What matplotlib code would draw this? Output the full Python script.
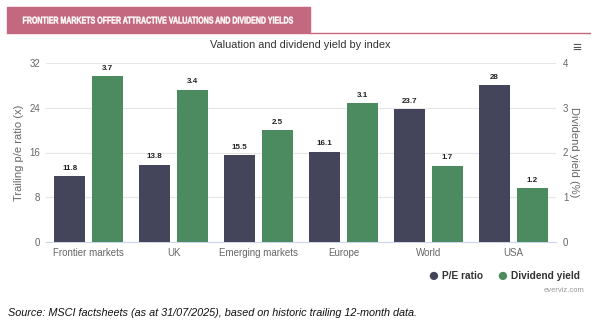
import numpy as np
import matplotlib.pyplot as plt
from matplotlib.patches import Rectangle, PathPatch
from matplotlib.lines import Line2D
from matplotlib.textpath import TextPath
from matplotlib.font_manager import FontProperties
from matplotlib.transforms import Affine2D

plt.rcParams['font.family'] = ['Liberation Sans', 'DejaVu Sans']

# datos
categorias = ["Frontier markets", "UK", "Emerging markets", "Europe", "World", "USA"]
pe_ratio = [11.8, 13.8, 15.5, 16.1, 23.7, 28]
div_yield = [3.7, 3.4, 2.5, 3.1, 1.7, 1.2]
pe_labels = ["11.8", "13.8", "15.5", "16.1", "23.7", "28"]
dy_labels = ["3.7", "3.4", "2.5", "3.1", "1.7", "1.2"]

c_pe = '#44455a'
c_dy = '#4c8b60'
c_txt = '#666666'
c_pink = '#c4687f'

W, H = 600, 323
fig = plt.figure(figsize=(6, 3.23), dpi=100)
fig.patch.set_facecolor('white')

# cabecera rosada
fig.patches.append(Rectangle((7/W, 1-32/H), 303/W, 25/H,
                             transform=fig.transFigure, color=c_pink, zorder=0))
fig.lines.append(Line2D([7/W, 590/W], [1-32.5/H, 1-32.5/H],
                        transform=fig.transFigure, color=c_pink, lw=1))
# texto condensado de la cabecera (escalado horizontal)
fp = FontProperties(family='Liberation Sans', weight='bold')
tp = TextPath((0, 0), "FRONTIER MARKETS OFFER ATTRACTIVE VALUATIONS AND DIVIDEND YIELDS",
              size=9.8, prop=fp)
bb = tp.get_extents()
sx = 270 / bb.width
tr = Affine2D().translate(-bb.x0, 0).scale(sx, 1).translate(23, H - 23.5)
fig.patches.append(PathPatch(tp, transform=tr, color='white', lw=0.3, zorder=2))

fig.text(0.5, 1-45/H, "Valuation and dividend yield by index", ha='center',
         va='center', fontsize=7.9, color='#333333')
fig.text(577/W, 1-48/H, "≡", ha='center', va='center', fontsize=11,
         color='#555555', fontweight='bold')

ax = fig.add_axes([46/W, 1-242/H, 510/W, 179/H])
ax2 = ax.twinx()

x = np.arange(len(categorias))
w = 0.365
off = 0.222

b1 = ax.bar(x - off, pe_ratio, w, color=c_pe, zorder=3)
b2 = ax2.bar(x + off, div_yield, w, color=c_dy, zorder=3)

for rect, lab in zip(b1, pe_labels):
    ax.text(rect.get_x() + rect.get_width()/2, rect.get_height() + 0.8, lab,
            ha='center', va='bottom', fontsize=5.8, fontweight='bold', color='#222222')
for rect, lab in zip(b2, dy_labels):
    ax2.text(rect.get_x() + rect.get_width()/2, rect.get_height() + 0.1, lab,
             ha='center', va='bottom', fontsize=5.8, fontweight='bold', color='#222222')

ax.set_xlim(-0.5, len(categorias) - 0.5)
ax.set_ylim(0, 32)
ax2.set_ylim(0, 4)
ax.set_yticks([0, 8, 16, 24, 32])
ax2.set_yticks([0, 1, 2, 3, 4])
ax.set_xticks(x)
ax.set_xticklabels(categorias)
ax.grid(axis='y', color='#e6e6e6', lw=0.8, zorder=0)
ax.set_axisbelow(True)

for a in (ax, ax2):
    for s in a.spines.values():
        s.set_visible(False)
    a.tick_params(length=0, labelsize=7, colors=c_txt)
ax.spines['bottom'].set_visible(True)
ax.spines['bottom'].set_color('#ccd6eb')
ax.spines['bottom'].set_linewidth(0.8)
ax.tick_params(axis='x', pad=4)
ax.tick_params(axis='y', pad=4)
ax2.tick_params(axis='y', pad=5)

ax.set_ylabel("Trailing p/e ratio (x)", fontsize=8, color=c_txt, labelpad=4)
ax2.set_ylabel("Dividend yield (%)", fontsize=8, color=c_txt, rotation=270, labelpad=8)

# leyenda
ly = 1 - 276/H
fig.text(433/W, ly, "●", color=c_pe, fontsize=14, ha='center', va='center')
fig.text(442/W, ly, "P/E ratio", color='#333333', fontsize=7.3,
         fontweight='bold', ha='left', va='center')
fig.text(502/W, ly, "●", color=c_dy, fontsize=14, ha='center', va='center')
fig.text(511/W, ly, "Dividend yield", color='#333333', fontsize=7.3,
         fontweight='bold', ha='left', va='center')
fig.text(584/W, 1-291/H, "everviz.com", color='#999999', fontsize=5.5,
         ha='right', va='center')

fig.text(8/W, 1-313/H,
         "Source: MSCI factsheets (as at 31/07/2025), based on historic trailing 12-month data.",
         fontsize=7.8, style='italic', color='#111111', ha='left', va='center')

plt.savefig('out.png', dpi=100, facecolor='white')
plt.close()
